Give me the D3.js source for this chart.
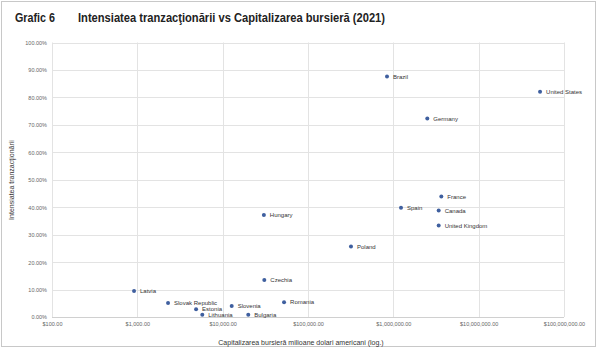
<!DOCTYPE html>
<html>
<head>
<meta charset="utf-8">
<script src="https://cdn.jsdelivr.net/npm/d3@7"></script>
<style>
  body { margin: 0; background: #fff; }
  text { font-family: "Liberation Sans", Arial, sans-serif; }
</style>
</head>
<body>
<div id="chart"></div>
<script>
// tari, capitalizare (mil. USD) si intensitatea tranzactionarii
const countries = ["Latvia", "Slovak Republic", "Estonia", "Lithuania", "Slovenia", "Bulgaria", "Romania", "Czechia", "Hungary", "Poland", "Brazil", "United States", "Germany", "France", "Spain", "Canada", "United Kingdom"];
const capitalization = [915, 2290, 4880, 5770, 12760, 19960, 52400, 30760, 30400, 319000, 843000, 52400000, 2500000, 3650000, 1230000, 3400000, 3400000];
const intensity = [0.095, 0.051, 0.028, 0.0085, 0.040, 0.0085, 0.054, 0.135, 0.372, 0.257, 0.876, 0.821, 0.723, 0.439, 0.398, 0.388, 0.333];
const xTicks = [1e2, 1e3, 1e4, 1e5, 1e6, 1e7, 1e8];
const yTicks = [0, 0.1, 0.2, 0.3, 0.4, 0.5, 0.6, 0.7, 0.8, 0.9, 1.0];

const width = 600, height = 353;
const svg = d3.select("#chart").append("svg")
  .attr("width", width)
  .attr("height", height);

// rama
svg.append("rect")
  .attr("x", 1.5).attr("y", 1.5)
  .attr("width", 594).attr("height", 345)
  .attr("fill", "#fff")
  .attr("stroke", "#c8c8c8");

// titlu
svg.append("text")
  .attr("x", 15).attr("y", 22)
  .attr("font-size", 13.5).attr("font-weight", "bold").attr("fill", "#222")
  .attr("textLength", 40).attr("lengthAdjust", "spacingAndGlyphs")
  .text("Grafic 6");
svg.append("text")
  .attr("x", 78).attr("y", 22)
  .attr("font-size", 13.5).attr("font-weight", "bold").attr("fill", "#222")
  .attr("textLength", 307).attr("lengthAdjust", "spacingAndGlyphs")
  .text("Intensiatea tranzacţionării vs Capitalizarea bursieră (2021)");

const x = d3.scaleLog().domain([1e2, 1e8]).range([52, 564]);
const y = d3.scaleLinear().domain([0, 1]).range([317, 42.5]);

// grila
svg.append("g").selectAll("line")
  .data(yTicks)
  .join("line")
  .attr("x1", 52).attr("x2", 564)
  .attr("y1", d => Math.round(y(d)) + 0.5).attr("y2", d => Math.round(y(d)) + 0.5)
  .attr("stroke", d => d === 0 ? "#d0d0d0" : "#e3e3e3");
svg.append("g").selectAll("line")
  .data(xTicks)
  .join("line")
  .attr("x1", d => Math.round(x(d)) + 0.5).attr("x2", d => Math.round(x(d)) + 0.5)
  .attr("y1", 42.5).attr("y2", 317)
  .attr("stroke", "#e3e3e3");

// axe
const fmtPct = d3.format(".2%");
const fmtUsd = d => "$" + d3.format(",.2f")(d);

const yAxis = svg.append("g")
  .attr("transform", "translate(47,0)")
  .call(d3.axisLeft(y).tickValues(yTicks).tickFormat(fmtPct).tickSize(0).tickPadding(0));
yAxis.select(".domain").remove();
yAxis.selectAll("text").attr("font-size", 5.5).attr("fill", "#666").attr("dy", "0.35em");

const xAxis = svg.append("g")
  .attr("transform", "translate(0,322)")
  .call(d3.axisBottom(x).tickValues(xTicks).tickFormat(fmtUsd).tickSize(0).tickPadding(0));
xAxis.select(".domain").remove();
xAxis.selectAll("text").attr("font-size", 5.5).attr("fill", "#666");

// titluri axe
svg.append("text")
  .attr("x", 301).attr("y", 345)
  .attr("text-anchor", "middle").attr("font-size", 7).attr("fill", "#333")
  .text("Capitalizarea bursieră milioane dolari americani (log.)");
svg.append("text")
  .attr("transform", "translate(14,180) rotate(-90)")
  .attr("text-anchor", "middle").attr("font-size", 7).attr("fill", "#333")
  .text("Intensiatea tranzacţionării");

// puncte
const points = countries.map((c, i) => ({ name: c, cap: capitalization[i], val: intensity[i] }));

svg.append("g").selectAll("circle")
  .data(points)
  .join("circle")
  .attr("cx", d => x(d.cap))
  .attr("cy", d => y(d.val))
  .attr("r", 2)
  .attr("fill", "#3f5f9f");

svg.append("g").selectAll("text")
  .data(points)
  .join("text")
  .attr("x", d => x(d.cap) + 6)
  .attr("y", d => y(d.val))
  .attr("dy", "0.35em")
  .attr("font-size", 6)
  .attr("fill", "#333")
  .text(d => d.name);
</script>
</body>
</html>
